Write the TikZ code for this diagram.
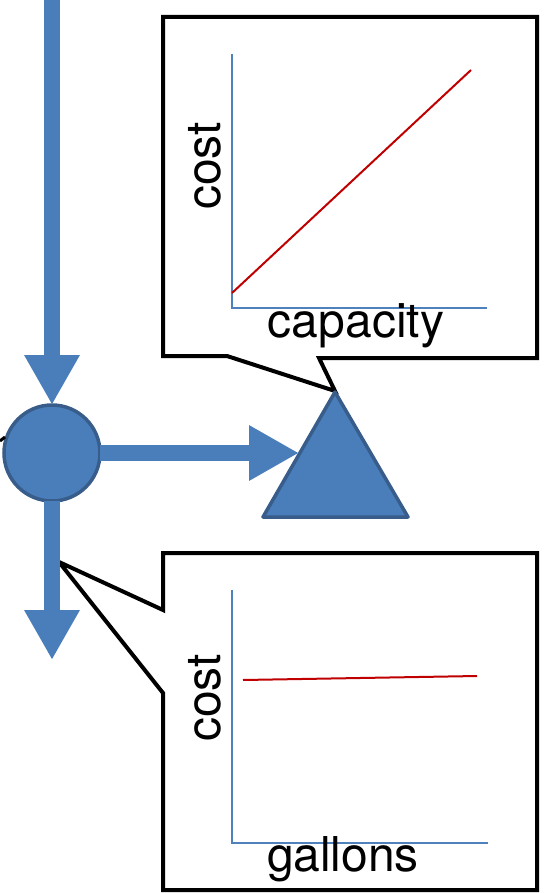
\documentclass[tikz,border=0pt]{standalone}
\usepackage{fontspec}
\setmainfont{TeX Gyre Heros}
\usetikzlibrary{arrows.meta}
\definecolor{bfill}{HTML}{4A7EBB}
\definecolor{bline}{HTML}{385D8A}
\definecolor{axis}{HTML}{4F81BD}
\definecolor{redl}{HTML}{C00000}
\tikzset{
  flow/.style={draw=bfill,line width=16pt,-{Triangle[length=50pt,width=52pt]}},
  callout/.style={draw=black,line width=4pt,line join=miter,fill=white},
  axisline/.style={draw=axis,line width=2pt},
  curve/.style={draw=redl,line width=2pt},
  lbl/.style={font=\fontsize{48}{52}\selectfont,inner sep=0pt},
}
\begin{document}
\begin{tikzpicture}[x=1pt,y=-1pt]
\useasboundingbox (0,0) rectangle (543,893);
% top callout
\draw[callout] (163,17) -- (537,17) -- (537,358) -- (319,358) -- (335,391) -- (227,356) -- (163,356) -- cycle;
\draw[axisline] (232,54) -- (232,308) -- (487,308);
\draw[curve] (232,293) -- (471,70);
\node[lbl,rotate=90] (c1) at (205,166) {cost};
\node[lbl] (x1) at (356,326) {capacity};
% bottom callout
\draw[callout] (163,553) -- (537,553) -- (537,890) -- (163,890) -- (163,693) -- (59,562) -- (163,610) -- cycle;
\draw[axisline] (232,590) -- (232,843) -- (488,843);
\draw[curve] (243,680) -- (477,676);
\node[lbl,rotate=90] (c2) at (205,698) {cost};
\node[lbl] (x2) at (343,859) {gallons};
% shapes
\node[circle,draw=bline,fill=bfill,line width=3.5pt,minimum size=96pt,inner sep=0pt,outer sep=0pt] (c) at (52,453) {};
\draw[draw=bline,fill=bfill,line width=3.5pt,line join=round] (335,392) -- (408,517) -- (263,517) -- cycle;
\coordinate (top) at (52,0);
\coordinate (tipH) at (299,453);
\coordinate (tipD) at (52,660);
\coordinate (lf1) at (0,441);
\coordinate (lf2) at (5,437);
\draw[flow] (top) -- (c.north);
\draw[flow] (c) -- (tipH);
\draw[flow] (c) -- (tipD);
\draw[line width=3pt] (lf1) -- (lf2);
\end{tikzpicture}
\end{document}
